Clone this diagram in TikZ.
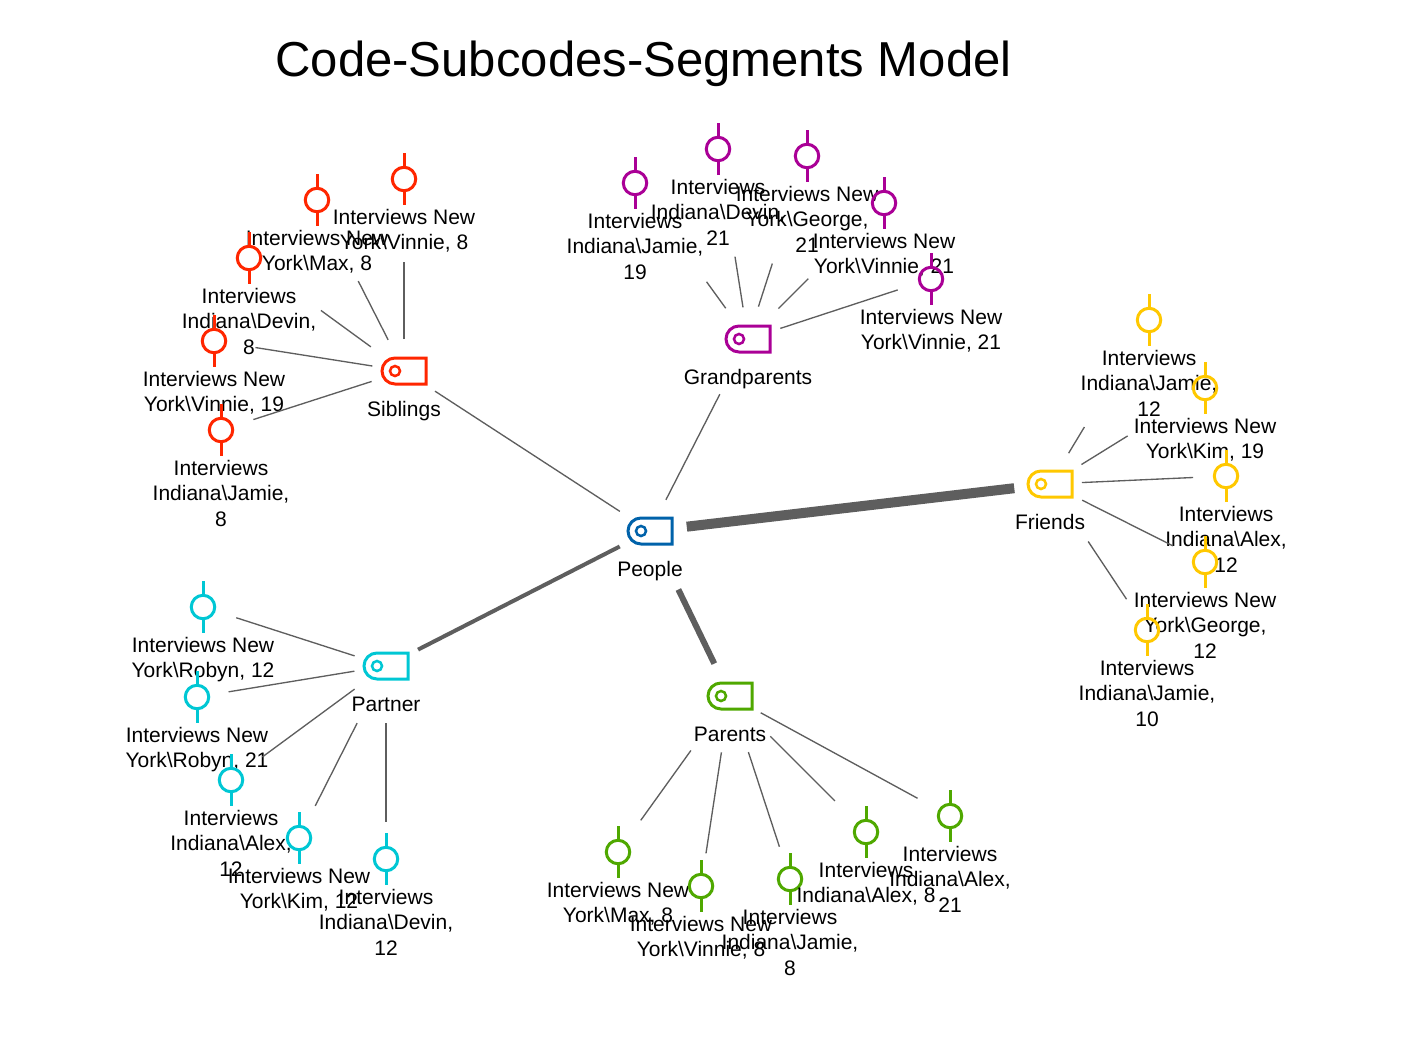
\documentclass[tikz,border=0pt]{standalone}
\usepackage{fontspec}
\setmainfont{Liberation Sans}
\usetikzlibrary{shapes.misc}

\definecolor{peopleblue}{RGB}{0,98,170}
\definecolor{siblingsred}{RGB}{255,38,0}
\definecolor{grandpurple}{RGB}{170,0,150}
\definecolor{friendsyellow}{RGB}{255,200,0}
\definecolor{partnercyan}{RGB}{0,199,212}
\definecolor{parentsgreen}{RGB}{79,168,0}
\definecolor{linkgray}{RGB}{94,94,94}

\tikzset{
	labeltext/.style={font=\fontsize{15.75}{19.1}\selectfont,align=center,inner sep=0pt,text=black},
	codeicon/.style={rounded rectangle,rounded rectangle right arc=none,draw=#1,line width=2.25pt,
		minimum width=33pt,minimum height=19.5pt,inner sep=0pt},
	codering/.style={circle,draw=#1,line width=1.9pt,minimum size=7.5pt,inner sep=0pt},
	segicon/.style={circle,draw=#1,line width=2.25pt,minimum size=17.6pt,inner sep=0pt},
	segtick/.style={draw=#1,line width=2.25pt},
	thinlink/.style={draw=linkgray,line width=1pt},
}

% name, x, y, colour, text
\newcommand{\codenode}[5]{
	\node[codeicon=#4] (#1) at (#2,#3) {};
	\node[codering=#4] (#1-ring) at (#2-9,#3) {};
	\node[labeltext,anchor=base] (#1-text) at (#2,#3+45.5) {#5};
}
\newcommand{\segnode}[5]{
	\node[segicon=#4] (#1) at (#2,#3) {};
	\draw[segtick=#4] (#1.north) -- ++(0,-12.5);
	\draw[segtick=#4] (#1.south) -- ++(0,12.5);
	\node[labeltext,anchor=north] (#1-text) at (#2,#3+30) {#5};
}
% from, to, gap at from, gap at to, width
\newcommand{\codelink}[5]{
	\draw[thinlink,line width=#5,shorten <=#3*0.75pt,shorten >=#4*0.75pt] (#1.center) -- (#2.center);
}

\begin{document}
\begin{tikzpicture}[x=0.75pt,y=-0.75pt]
	\useasboundingbox (0,0) rectangle (1412,1042);
	\node[font=\fontsize{36.8}{44}\selectfont] (title) at (643.5,64) {Code-Subcodes-Segments Model};

	% codes
	\codenode{people}{650}{531}{peopleblue}{People}
	\codenode{siblings}{404}{371}{siblingsred}{Siblings}
	\codenode{grandparents}{748}{339}{grandpurple}{Grandparents}
	\codenode{friends}{1050}{484}{friendsyellow}{Friends}
	\codenode{partner}{386}{666}{partnercyan}{Partner}
	\codenode{parents}{730}{696}{parentsgreen}{Parents}

	% siblings
	\segnode{s1}{404}{179}{siblingsred}{Interviews New\\York\textbackslash Vinnie, 8}
	\segnode{s2}{317}{200}{siblingsred}{Interviews New\\York\textbackslash Max, 8}
	\segnode{s3}{249}{258}{siblingsred}{Interviews\\Indiana\textbackslash Devin,\\8}
	\segnode{s4}{214}{341}{siblingsred}{Interviews New\\York\textbackslash Vinnie, 19}
	\segnode{s5}{221}{430}{siblingsred}{Interviews\\Indiana\textbackslash Jamie,\\8}
	\codelink{people}{siblings}{36}{37}{1pt}
	\codelink{siblings}{s1}{32}{83}{1pt}
	\codelink{siblings}{s2}{35}{91}{1pt}
	\codelink{siblings}{s3}{41}{89}{1pt}
	\codelink{siblings}{s4}{32}{42}{1pt}
	\codelink{siblings}{s5}{34}{34}{1pt}

	% grandparents
	\segnode{g1}{635}{183}{grandpurple}{Interviews\\Indiana\textbackslash Jamie,\\19}
	\segnode{g2}{718}{149}{grandpurple}{Interviews\\Indiana\textbackslash Devin,\\21}
	\segnode{g3}{807}{156}{grandpurple}{Interviews New\\York\textbackslash George,\\21}
	\segnode{g4}{884}{203}{grandpurple}{Interviews New\\York\textbackslash Vinnie, 21}
	\segnode{g5}{931}{279}{grandpurple}{Interviews New\\York\textbackslash Vinnie, 21}
	\codelink{people}{grandparents}{35}{62}{1pt}
	\codelink{grandparents}{g1}{38}{122}{1pt}
	\codelink{grandparents}{g2}{32}{109}{1pt}
	\codelink{grandparents}{g3}{34}{113}{1pt}
	\codelink{grandparents}{g4}{43}{107}{1pt}
	\codelink{grandparents}{g5}{34}{35}{1pt}

	% friends
	\segnode{f1}{1149}{320}{friendsyellow}{Interviews\\Indiana\textbackslash Jamie,\\12}
	\segnode{f2}{1205}{388}{friendsyellow}{Interviews New\\York\textbackslash Kim, 19}
	\segnode{f3}{1226}{476}{friendsyellow}{Interviews\\Indiana\textbackslash Alex,\\12}
	\segnode{f4}{1205}{562}{friendsyellow}{Interviews New\\York\textbackslash George,\\12}
	\segnode{f5}{1147}{630}{friendsyellow}{Interviews\\Indiana\textbackslash Jamie,\\10}
	\codelink{people}{friends}{37}{36}{7.5pt}
	\codelink{friends}{f1}{36}{125}{1pt}
	\codelink{friends}{f2}{37}{91}{1pt}
	\codelink{friends}{f3}{32}{33}{1pt}
	\codelink{friends}{f4}{36}{36}{1pt}
	\codelink{friends}{f5}{69}{37}{1pt}

	% partner
	\segnode{p1}{203}{607}{partnercyan}{Interviews New\\York\textbackslash Robyn, 12}
	\segnode{p2}{197}{697}{partnercyan}{Interviews New\\York\textbackslash Robyn, 21}
	\segnode{p3}{231}{780}{partnercyan}{Interviews\\Indiana\textbackslash Alex,\\12}
	\segnode{p4}{299}{838}{partnercyan}{Interviews New\\York\textbackslash Kim, 12}
	\segnode{p5}{386}{859}{partnercyan}{Interviews\\Indiana\textbackslash Devin,\\12}
	\codelink{people}{partner}{34}{36}{3pt}
	\codelink{partner}{p1}{33}{35}{1pt}
	\codelink{partner}{p2}{32}{32}{1pt}
	\codelink{partner}{p3}{39}{39}{1pt}
	\codelink{partner}{p4}{64}{36}{1pt}
	\codelink{partner}{p5}{57}{37}{1pt}

	% parents
	\segnode{a1}{618}{852}{parentsgreen}{Interviews New\\York\textbackslash Max, 8}
	\segnode{a2}{701}{886}{parentsgreen}{Interviews New\\York\textbackslash Vinnie, 8}
	\segnode{a3}{790}{879}{parentsgreen}{Interviews\\Indiana\textbackslash Jamie,\\8}
	\segnode{a4}{866}{832}{parentsgreen}{Interviews\\Indiana\textbackslash Alex, 8}
	\segnode{a5}{950}{816}{parentsgreen}{Interviews\\Indiana\textbackslash Alex,\\21}
	\codelink{people}{parents}{65}{36}{4.5pt}
	\codelink{parents}{a1}{67}{39}{1pt}
	\codelink{parents}{a2}{57}{33}{1pt}
	\codelink{parents}{a3}{59}{34}{1pt}
	\codelink{parents}{a4}{57}{44}{1pt}
	\codelink{parents}{a5}{35}{37}{1pt}
\end{tikzpicture}
\end{document}
